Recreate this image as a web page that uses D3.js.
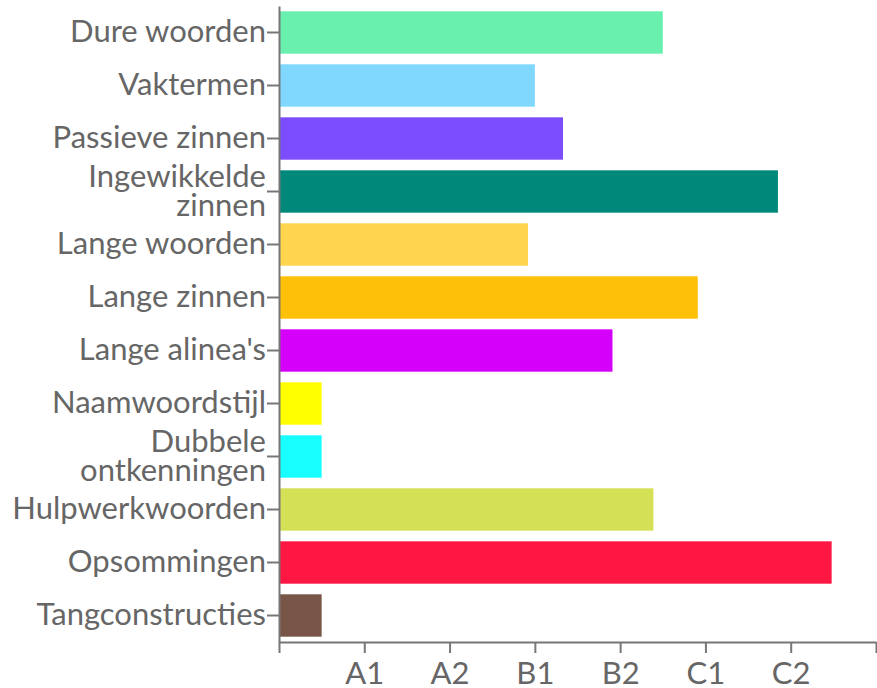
<!DOCTYPE html>
<html>
<head>
<meta charset="utf-8">
<script src="https://cdn.jsdelivr.net/npm/d3@7"></script>
<style>
  body { margin: 0; background: #fff; }
  svg { display: block; font-family: Lato, sans-serif; }
  .axis text { fill: #666; font-size: 31px; font-family: Lato, sans-serif; }
  .axis path, .axis line { stroke: #777; stroke-width: 2; }
</style>
</head>
<body>
<svg width="877" height="688"></svg>
<script>
// categories, top to bottom
var categories = ["Dure woorden", "Vaktermen", "Passieve zinnen", "Ingewikkelde zinnen",
  "Lange woorden", "Lange zinnen", "Lange alinea's", "Naamwoordstijl",
  "Dubbele ontkenningen", "Hulpwerkwoorden", "Opsommingen", "Tangconstructies"];
// level reached (0 = none, 1 = A1 ... 6 = C2)
var values = [4.5, 3, 3.33, 5.85, 2.92, 4.91, 3.91, 0.5, 0.5, 4.39, 6.48, 0.5];
var colors = ["#69F0AE", "#80D8FF", "#7C4DFF", "#00897B", "#FFD54F", "#FFC107",
  "#D500F9", "#FFFF00", "#18FFFF", "#D4E157", "#FF1744", "#795548"];
var levels = ["", "A1", "A2", "B1", "B2", "C1", "C2", ""];

var svg = d3.select("svg");
var margin = {top: 6, right: 1, bottom: 46, left: 279};
var width = +svg.attr("width");
var height = +svg.attr("height");

var x = d3.scaleLinear().domain([0, 7]).range([margin.left, width - margin.right]);
var y = d3.scaleBand().domain(categories)
  .range([margin.top, height - margin.bottom])
  .paddingInner(0.2).paddingOuter(0.1);

svg.selectAll(".bar").data(categories)
  .enter().append("rect").attr("class", "bar")
  .attr("x", x(0))
  .attr("y", d => y(d))
  .attr("width", (d, i) => x(values[i]) - x(0))
  .attr("height", y.bandwidth())
  .attr("fill", (d, i) => colors[i]);

var xAxis = svg.append("g").attr("class", "axis")
  .attr("transform", "translate(0," + (height - margin.bottom) + ")")
  .call(d3.axisBottom(x).tickValues(d3.range(0, 8)).tickFormat(d => levels[d])
    .tickSize(11).tickSizeOuter(0).tickPadding(9));

var yAxis = svg.append("g").attr("class", "axis")
  .attr("transform", "translate(" + x(0) + ",0)")
  .call(d3.axisLeft(y).tickSize(12).tickSizeOuter(0).tickPadding(2));

// wrap long labels, centred on the tick
yAxis.selectAll(".tick text").each(function(d) {
  var text = d3.select(this);
  var words = d.split(" ");
  var lines = [], line = [];
  text.text(null);
  var probe = text.append("tspan");
  words.forEach(w => {
    line.push(w);
    probe.text(line.join(" "));
    if (probe.node().getComputedTextLength() > 260 && line.length > 1) {
      line.pop();
      lines.push(line.join(" "));
      line = [w];
    }
  });
  lines.push(line.join(" "));
  probe.remove();
  var lh = 0.93;
  lines.forEach((l, i) => {
    text.append("tspan").attr("x", -13)
      .attr("dy", i == 0 ? (0.32 - (lines.length - 1) * lh / 2) + "em" : lh + "em")
      .text(l);
  });
  text.attr("dy", null);
});
</script>
</body>
</html>
